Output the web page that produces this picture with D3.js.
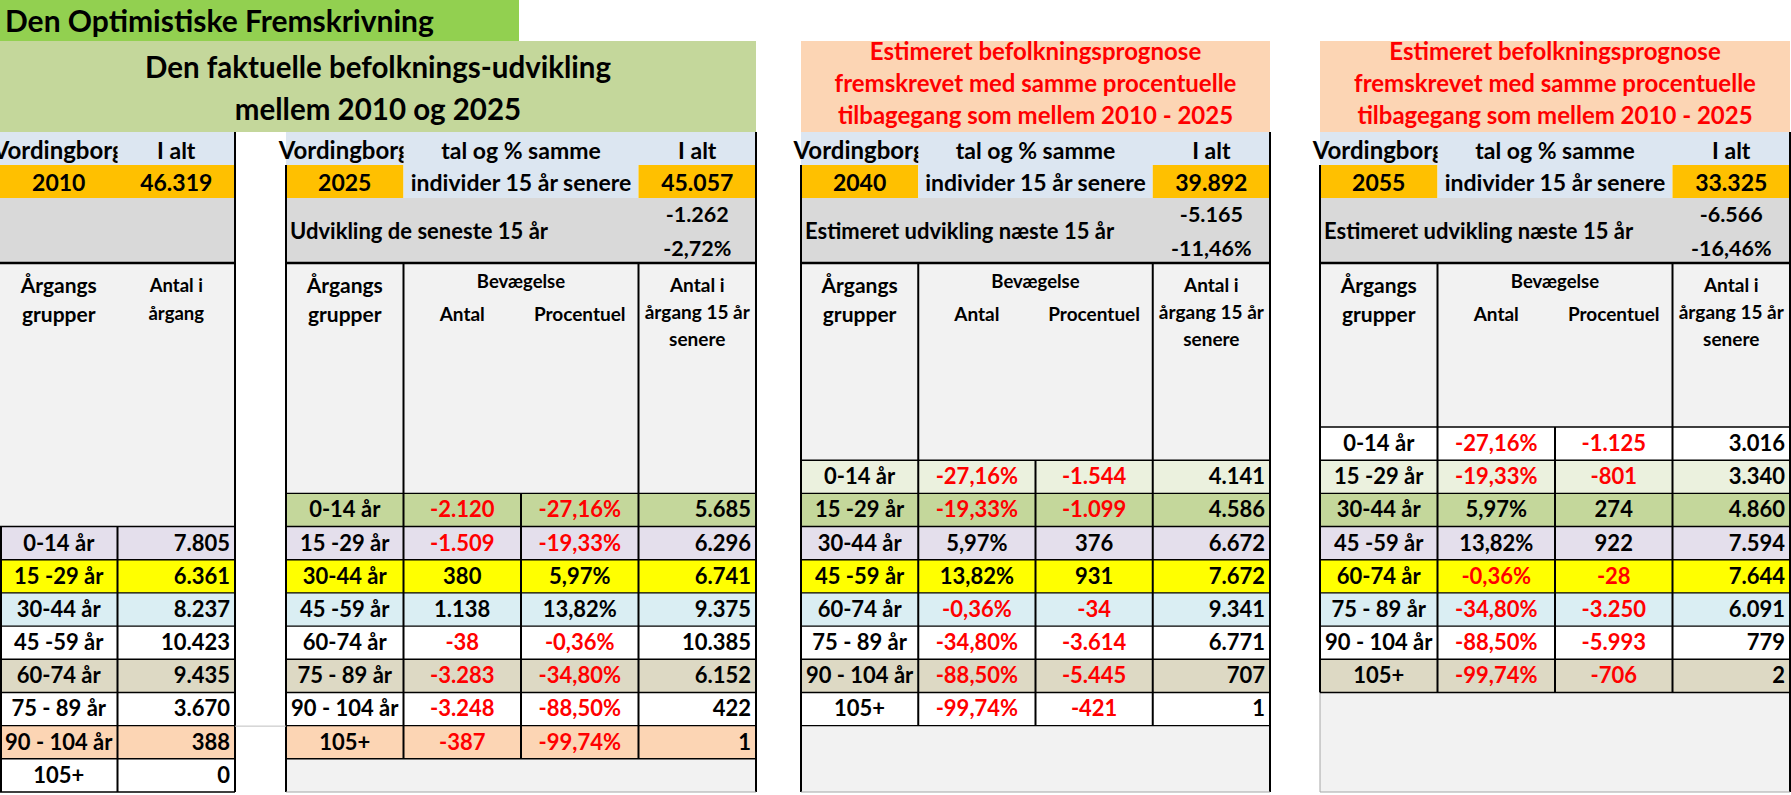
<!DOCTYPE html>
<html><head><meta charset="utf-8">
<script src="https://cdn.jsdelivr.net/npm/d3@7"></script>
<style>
body{margin:0;background:#fff;overflow:hidden}
svg{display:block}
text{font-family:Lato,"Open Sans",sans-serif;font-weight:700}
</style>
</head><body>
<script>
// ---------- DATA ----------
const titleText = "Den Optimistiske Fremskrivning";
const subtitleLines = ["Den faktuelle befolknings-udvikling", "mellem 2010 og 2025"];
const forecastLines = ["Estimeret befolkningsprognose", "fremskrevet med samme procentuelle", "tilbagegang som mellem 2010 - 2025"];
const municipality = "Vordingborg";
const totalLabel = "I alt";
const sameIndivLines = ["tal og % samme", "individer 15 år senere"];
const devLabels = ["", "Udvikling de seneste 15 år", "Estimeret udvikling næste 15 år", "Estimeret udvikling næste 15 år"];
const groupHeader = ["Årgangs", "grupper"];
const countHeader2010 = ["Antal i", "årgang"];
const moveHeader = "Bevægelse";
const moveSubHeaders = ["Antal", "Procentuel"];
const laterHeader = ["Antal i", "årgang 15 år", "senere"];

const ageGroups = ["0-14 år", "15 -29 år", "30-44  år", "45 -59 år", "60-74 år", "75 - 89 år", "90 - 104 år", "105+"];
const years = ["2010", "2025", "2040", "2055"];
const totals = [46319, 45057, 39892, 33325];
const totalChange = [null, -1262, -5165, -6566];
const totalChangePct = [null, -2.72, -11.46, -16.46];

const counts2010 = [7805, 6361, 8237, 10423, 9435, 3670, 388, 0];
const growthPct = [-27.16, -19.33, 5.97, 13.82, -0.36, -34.80, -88.50, -99.74];
const change2025 = [-2120, -1509, 380, 1138, -38, -3283, -3248, -387];
const counts2025 = [5685, 6296, 6741, 9375, 10385, 6152, 422, 1];
const change2040 = [-1544, -1099, 376, 931, -34, -3614, -5445, -421];
const counts2040 = [4141, 4586, 6672, 7672, 9341, 6771, 707, 1];
const change2055 = [-1125, -801, 274, 922, -28, -3250, -5993, -706];
const counts2055 = [3016, 3340, 4860, 7594, 7644, 6091, 779, 2];

// ---------- STYLE ----------
const cohortColors = ["#FFFFFF", "#EBF1DE", "#C4D79B", "#E4DFEC", "#FFFF00", "#DAEEF3", "#FFFFFF", "#DDD9C4", "#FFFFFF", "#FCD5B4", "#FFFFFF"];
const C = {title:"#92D050", sub:"#C4D79B", salmon:"#FCD5B4", head1:"#DCE6F1", orange:"#FFC000", gray:"#D9D9D9", light:"#F2F2F2", red:"#FF0000"};

const W = 1791, H = 795;
const loc = d3.formatLocale({decimal: ",", thousands: ".", grouping: [3], currency: ["", " kr."], minus: "-"});
const fInt = loc.format(",d");
const fDec = loc.format(".2f");
const fPct = v => fDec(v) + "%";

const svg = d3.select("body").append("svg").attr("width", W).attr("height", H);
const defs = svg.append("defs");
const gFill = svg.append("g"), gLine = svg.append("g"), gText = svg.append("g");

function box(x, y, w, h, fill) {
  gFill.append("rect").attr("x", x).attr("y", y).attr("width", w).attr("height", h).attr("fill", fill);
}
function ln(x1, y1, x2, y2, w = 2, c = "#000") {
  gLine.append("line").attr("x1", x1).attr("y1", y1).attr("x2", x2).attr("y2", y2)
    .attr("stroke", c).attr("stroke-width", w);
}
function txt(s, x, y, size, anchor = "middle", fill = "#000", clip = null) {
  const t = gText.append("text").attr("x", x).attr("y", y).attr("font-size", size)
    .attr("text-anchor", anchor).attr("fill", fill).text(s);
  if (clip) t.attr("clip-path", `url(#${clip})`);
  return t;
}

// Row scale for the cohort grid
const yRow = d3.scaleBand().domain(d3.range(11)).range([427, 792]);
const rowH = yRow.bandwidth();

// ---------- TOP BANNERS ----------
box(0, 0, 519, 41, C.title);
txt(titleText, 5, 32, 30, "start");
box(0, 41, 756, 91, C.sub);
const yTitle = d3.scalePoint().domain(d3.range(subtitleLines.length)).range([78, 120]);
subtitleLines.forEach((s, i) => txt(s, 378, yTitle(i), 29.5));
const yFc = d3.scalePoint().domain(d3.range(forecastLines.length)).range([60, 124]);
[[801, 1270], [1320, 1790]].forEach(([a, b]) => {
  box(a, 41, b - a, 91, C.salmon);
  forecastLines.forEach((s, i) => txt(s, (a + b) / 2, yFc(i), 24, "middle", C.red));
});

// ---------- TABLES ----------
const panels = [
  {x0: 0, x1: 235, start: 3, cols: [
    {v: ageGroups, k: "label"}, {v: counts2010, k: "int", a: "end"}]},
  {x0: 286, x1: 756, start: 2, cols: [
    {v: ageGroups, k: "label"}, {v: change2025, k: "int", a: "middle"},
    {v: growthPct, k: "pct", a: "middle"}, {v: counts2025, k: "int", a: "end"}]},
  {x0: 801, x1: 1270, start: 1, cols: [
    {v: ageGroups, k: "label"}, {v: growthPct, k: "pct", a: "middle"},
    {v: change2040, k: "int", a: "middle"}, {v: counts2040, k: "int", a: "end"}]},
  {x0: 1320, x1: 1790, start: 0, cols: [
    {v: ageGroups, k: "label"}, {v: growthPct, k: "pct", a: "middle"},
    {v: change2055, k: "int", a: "middle"}, {v: counts2055, k: "int", a: "end"}]}
];

const Y_R1 = 132, Y_R2 = 165, Y_G = 198, Y_H = 263;

panels.forEach((p, pi) => {
  const n = p.cols.length;
  const xs = d3.scaleBand().domain(d3.range(n)).range([p.x0, p.x1]);
  const cw = xs.bandwidth();
  const cx = i => xs(i) + cw / 2;
  const w = p.x1 - p.x0;
  const dataTop = yRow(p.start);
  const dataBot = yRow(p.start + ageGroups.length - 1) + rowH;

  // fills
  box(p.x0, Y_R1, w, Y_R2 - Y_R1, C.head1);
  if (n === 2) {
    box(p.x0, Y_R2, w, Y_G - Y_R2, C.orange);
  } else {
    box(xs(0), Y_R2, cw, Y_G - Y_R2, C.orange);
    box(xs(1), Y_R2, cw * 2, Y_G - Y_R2, C.head1);
    box(xs(3), Y_R2, cw, Y_G - Y_R2, C.orange);
  }
  box(p.x0, Y_G, w, Y_H - Y_G, C.gray);
  box(p.x0, Y_H, w, dataTop - Y_H, C.light);

  gFill.append("g").selectAll("rect").data(ageGroups).join("rect")
    .attr("x", p.x0).attr("y", (d, i) => yRow(p.start + i))
    .attr("width", w).attr("height", rowH)
    .attr("fill", (d, i) => cohortColors[p.start + i]);

  if (dataBot < 791) box(p.x0, dataBot, w, 792 - dataBot, C.light);

  // lines
  ln(p.x1, Y_R1, p.x1, 792);
  if (pi === 0) ln(1, dataTop, 1, 792);
  else if (pi === 3) { ln(p.x0, Y_R2, p.x0, dataBot); ln(p.x0, dataBot, p.x0, 792, 1, "#A6A6A6"); }
  else ln(p.x0, Y_R2, p.x0, 792);
  ln(p.x0, Y_H, p.x1, Y_H, 2.5);
  if (n === 4) {
    ln(xs(1), Y_H, xs(1), dataTop);
    ln(xs(3), Y_H, xs(3), dataTop);
  }
  d3.range(ageGroups.length + 1).forEach(i => {
    const y = yRow(p.start) + i * rowH;
    ln(p.x0, y, p.x1, y, 1.4);
  });
  d3.range(1, n).forEach(c => ln(xs(c), dataTop, xs(c), dataBot));
  if (dataBot < 791) ln(p.x0, 792, p.x1, 792, 1, "#A6A6A6");

  // clip for municipality name (cell overflows to the left, clipped by the next cell)
  const cid = "clip" + pi;
  defs.append("clipPath").attr("id", cid).append("rect")
    .attr("x", p.x0 - 8).attr("y", Y_R1).attr("width", (xs(1) - p.x0) + 8).attr("height", Y_R2 - Y_R1);

  // header texts
  txt(municipality, cx(0), 159, 24, "middle", "#000", cid);
  txt(totalLabel, cx(n - 1), 159, 23);
  txt(years[pi], cx(0), 191, 23);
  txt(fInt(totals[pi]), cx(n - 1), 191, 23);
  if (n === 4) {
    txt(sameIndivLines[0], xs(2), 159, 23);
    txt(sameIndivLines[1], xs(2), 191, 23);
    txt(devLabels[pi], p.x0 + 4, 239, 22, "start");
    txt(fInt(totalChange[pi]), cx(3), 222, 21.5);
    txt(fPct(totalChangePct[pi]), cx(3), 256, 21.5);
    txt(moveHeader, xs(2), 288, 18.5);
    txt(moveSubHeaders[0], cx(1), 321, 19);
    txt(moveSubHeaders[1], cx(2), 321, 19);
    laterHeader.forEach((s, i) => txt(s, cx(3), 292 + i * 27, 19));
  } else {
    countHeader2010.forEach((s, i) => txt(s, cx(1), 292 + i * 28, 18.5));
  }
  groupHeader.forEach((s, i) => txt(s, cx(0), 293 + i * 29, 21));

  // data texts
  p.cols.forEach((col, c) => {
    gText.append("g").selectAll("text").data(col.v).join("text")
      .attr("x", col.k === "label" ? cx(c) : (col.a === "end" ? xs(c) + cw - 5 : cx(c)))
      .attr("y", (d, i) => yRow(p.start + i) + 24)
      .attr("font-size", 22)
      .attr("text-anchor", col.k === "label" ? "middle" : col.a)
      .attr("fill", d => (col.k !== "label" && c < n - 1 && d < 0) ? C.red : "#000")
      .text(d => col.k === "label" ? d : col.k === "pct" ? fPct(d) : fInt(d));
  });
});

// thin gray line continuing from the 2010 table towards the 2025 table
ln(235, yRow(9) + 0.5, 286, yRow(9) + 0.5, 1, "#BFBFBF");
</script>
</body></html>
